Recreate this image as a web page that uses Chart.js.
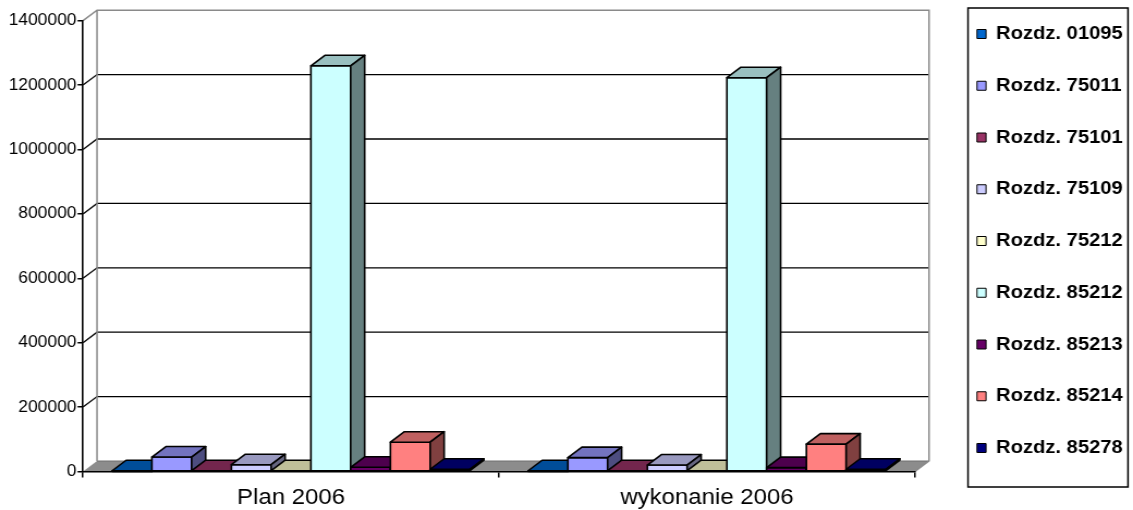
<!DOCTYPE html>
<html>
<head>
<meta charset="utf-8">
<script src="https://cdn.jsdelivr.net/npm/chart.js@4/dist/chart.umd.min.js"></script>
<style>
  html, body { margin: 0; padding: 0; background: #fff; overflow: hidden; }
  #wrap { width: 1133px; height: 510px; overflow: hidden; }
  /* the drawing is widened horizontally to fill the page */
  #chart { display: block; transform: scaleX(1.0894231); transform-origin: 0 0; }
</style>
</head>
<body>
<div id="wrap"><canvas id="chart" width="1040" height="510" style="width:1040px;height:510px"></canvas></div>
<script>
// ---- data -------------------------------------------------------------
const categories = ['Plan 2006', 'wykonanie 2006'];

const seriesLabels = [
  'Rozdz. 01095', 'Rozdz. 75011', 'Rozdz. 75101', 'Rozdz. 75109', 'Rozdz. 75212',
  'Rozdz. 85212', 'Rozdz. 85213', 'Rozdz. 85214', 'Rozdz. 85278'
];

const rozdz01095 = [400, 400];
const rozdz75011 = [45000, 43000];
const rozdz75101 = [1500, 1500];
const rozdz75109 = [21000, 20000];
const rozdz75212 = [1000, 1000];
const rozdz85212 = [1260000, 1223000];
const rozdz85213 = [13000, 12000];
const rozdz85214 = [91000, 85000];
const rozdz85278 = [7000, 7000];

const seriesValues = [
  rozdz01095, rozdz75011, rozdz75101, rozdz75109, rozdz75212,
  rozdz85212, rozdz85213, rozdz85214, rozdz85278
];

const seriesColors = [
  '#0066CC', '#9999FF', '#993366', '#CCCCFF', '#FFFFCC',
  '#CCFFFF', '#660066', '#FF8080', '#000080'
];

const yTickValues = [0, 200000, 400000, 600000, 800000, 1000000, 1200000, 1400000];

// ---- 3D look ----------------------------------------------------------
const DX = 12.85;   // depth offset, horizontal
const DY = -10.5;   // depth offset, vertical
const FONT = "'Liberation Sans', Arial, Helvetica, sans-serif";

function shade(hex, f) {
  const n = parseInt(hex.slice(1), 16);
  const r = Math.round(((n >> 16) & 255) * f);
  const g = Math.round(((n >> 8) & 255) * f);
  const b = Math.round((n & 255) * f);
  return `rgb(${r},${g},${b})`;
}

function poly(ctx, pts, fill) {
  ctx.beginPath();
  ctx.moveTo(pts[0][0], pts[0][1]);
  for (let i = 1; i < pts.length; i++) ctx.lineTo(pts[i][0], pts[i][1]);
  ctx.closePath();
  ctx.fillStyle = fill;
  ctx.fill();
  ctx.stroke();
}

function drawBox(ctx, l, r, t, b, color) {
  ctx.strokeStyle = '#000';
  ctx.lineWidth = 1.6;
  ctx.lineJoin = 'round';
  poly(ctx, [[l, t], [r, t], [r, b], [l, b]], color);
  poly(ctx, [[l, t], [l + DX, t + DY], [r + DX, t + DY], [r, t]], shade(color, 0.75));
  poly(ctx, [[r, t], [r + DX, t + DY], [r + DX, b + DY], [r, b]], shade(color, 0.5));
}

const box3d = {
  id: 'box3d',
  afterLayout(chart) {
    // place the legend column beside the plot
    const lg = chart.legend;
    if (!lg) return;
    lg.left = 863.55;
    lg.right = 1040;
    lg.width = lg.right - lg.left;
    lg.top = -10;
    lg.bottom = 492;
    lg.height = lg.bottom - lg.top;
  },
  beforeDraw(chart) {
    const { ctx, chartArea: a, scales: { y } } = chart;
    ctx.save();
    // floor
    ctx.beginPath();
    ctx.moveTo(a.left, a.bottom);
    ctx.lineTo(a.right, a.bottom);
    ctx.lineTo(a.right + DX, a.bottom + DY);
    ctx.lineTo(a.left + DX, a.bottom + DY);
    ctx.closePath();
    ctx.fillStyle = '#8c8c8c';
    ctx.fill();
    ctx.strokeStyle = '#6e6e6e';
    ctx.lineWidth = 1;
    ctx.beginPath();
    ctx.moveTo(a.left + DX, a.bottom + DY);
    ctx.lineTo(a.right + DX, a.bottom + DY);
    ctx.stroke();
    // grid lines on side and back walls
    ctx.strokeStyle = '#000';
    ctx.lineWidth = 1.3;
    for (const v of yTickValues) {
      if (v <= y.min || v >= y.max) continue;
      const py = y.getPixelForValue(v);
      ctx.beginPath();
      ctx.moveTo(a.left, py);
      ctx.lineTo(a.left + DX, py + DY);
      ctx.lineTo(a.right + DX, py + DY);
      ctx.stroke();
    }
    // wall edges
    ctx.strokeStyle = '#8a8a8a';
    ctx.lineWidth = 1.5;
    ctx.beginPath();
    ctx.moveTo(a.left, a.top);
    ctx.lineTo(a.left + DX, a.top + DY);
    ctx.lineTo(a.right + DX, a.top + DY);
    ctx.lineTo(a.right + DX, a.bottom + DY);
    ctx.lineTo(a.right, a.bottom);
    ctx.moveTo(a.left + DX, a.top + DY);
    ctx.lineTo(a.left + DX, a.bottom + DY);
    ctx.stroke();
    ctx.restore();
  },
  afterDatasetsDraw(chart) {
    const ctx = chart.ctx;
    const items = [];
    chart.data.datasets.forEach((ds, i) => {
      const meta = chart.getDatasetMeta(i);
      if (meta.hidden) return;
      meta.data.forEach((bar) => {
        const p = bar.getProps(['x', 'y', 'base', 'width'], true);
        items.push({ p, color: ds.backgroundColor });
      });
    });
    items.sort((u, v) => u.p.x - v.p.x);
    ctx.save();
    for (const { p, color } of items) {
      const l = p.x - p.width / 2, r = p.x + p.width / 2;
      drawBox(ctx, l, r, Math.min(p.y, p.base), Math.max(p.y, p.base), color);
    }
    ctx.restore();
  },
  afterDraw(chart) {
    // frame around the legend
    const lg = chart.legend;
    if (!lg) return;
    const ctx = chart.ctx;
    ctx.save();
    ctx.strokeStyle = '#000';
    ctx.lineWidth = 1.5;
    ctx.strokeRect(lg.left + 25, lg.top + 18, 146.85, 479);
    ctx.restore();
  }
};

// ---- chart -----------------------------------------------------------
new Chart(document.getElementById('chart'), {
  type: 'bar',
  data: {
    labels: categories,
    datasets: seriesLabels.map((label, i) => ({
      label,
      data: seriesValues[i],
      backgroundColor: seriesColors[i],
      borderColor: '#000',
      borderWidth: 1,
      categoryPercentage: 0.86,
      barPercentage: 1
    }))
  },
  options: {
    responsive: false,
    maintainAspectRatio: false,
    animation: false,
    events: [],
    layout: { padding: { left: 0, top: 0, right: 50.1, bottom: 0 } },
    plugins: {
      tooltip: { enabled: false },
      legend: {
        position: 'right',
        maxWidth: 150,
        labels: {
          boxWidth: 8.3,
          boxHeight: 9,
          padding: 33.25,
          color: '#000',
          font: { family: FONT, size: 18.5, weight: 'bold' }
        }
      }
    },
    scales: {
      x: {
        grid: { display: true, offset: true, drawOnChartArea: false, drawTicks: true, tickLength: 6, tickColor: '#000', lineWidth: 1.5 },
        border: { display: true, color: '#000', width: 1.6 },
        ticks: { color: '#000', padding: 7, maxRotation: 0, font: { family: FONT, size: 22 } },
        afterFit(s) { s.height = 38.5; s.paddingLeft = 0; s.paddingRight = 0; }
      },
      y: {
        min: 0,
        max: 1400000,
        afterBuildTicks(s) { s.ticks = yTickValues.map(v => ({ value: v })); },
        grid: { display: true, drawOnChartArea: false, drawTicks: true, tickLength: 5, tickColor: '#000', lineWidth: 1.5 },
        border: { display: true, color: '#000', width: 1.6 },
        ticks: { color: '#000', padding: 1, font: { family: FONT, size: 16 }, callback: v => String(v) },
        afterFit(s) { s.width = 76.2; s.paddingTop = 20.7; s.paddingBottom = 0; }
      }
    }
  },
  plugins: [box3d]
});
</script>
</body>
</html>
